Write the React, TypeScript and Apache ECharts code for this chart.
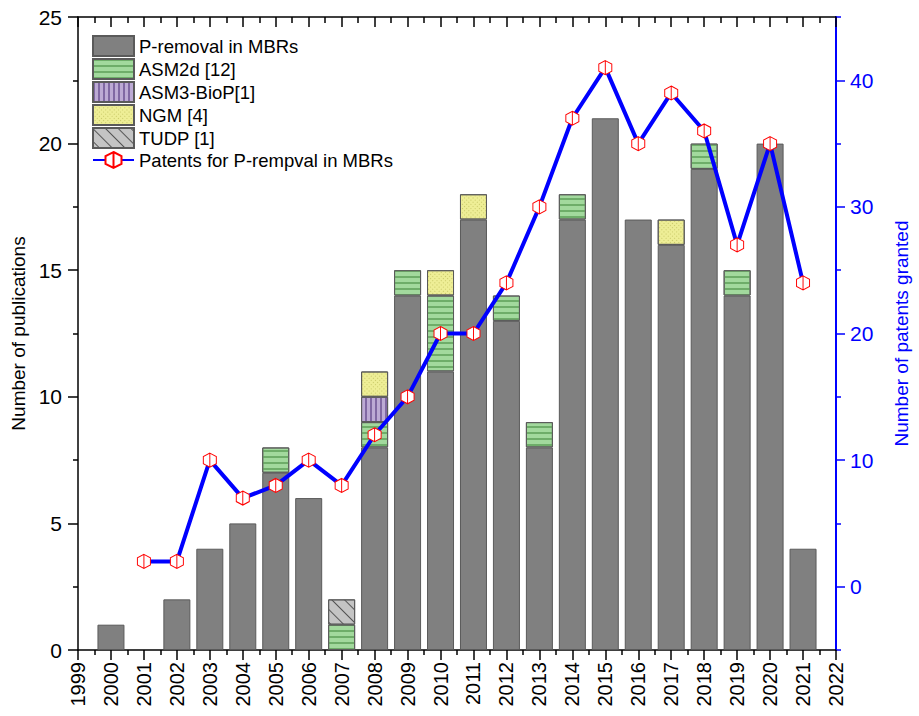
import React, { useEffect, useRef } from "react";
import * as echarts from "echarts";

// ---- data ----
const axisYears = ["1999", "2000", "2001", "2002", "2003", "2004", "2005", "2006", "2007", "2008", "2009", "2010", "2011", "2012", "2013", "2014", "2015", "2016", "2017", "2018", "2019", "2020", "2021", "2022"];
const pRemoval = [0, 1, 0, 2, 4, 5, 7, 6, 0, 8, 14, 11, 17, 13, 8, 17, 21, 17, 16, 19, 14, 20, 4, 0];
const asm2d = [0, 0, 0, 0, 0, 0, 1, 0, 1, 1, 1, 3, 0, 1, 1, 1, 0, 0, 0, 1, 1, 0, 0, 0];
const asm3 = [0, 0, 0, 0, 0, 0, 0, 0, 0, 1, 0, 0, 0, 0, 0, 0, 0, 0, 0, 0, 0, 0, 0, 0];
const ngm = [0, 0, 0, 0, 0, 0, 0, 0, 0, 1, 0, 1, 1, 0, 0, 0, 0, 0, 1, 0, 0, 0, 0, 0];
const tudp = [0, 0, 0, 0, 0, 0, 0, 0, 1, 0, 0, 0, 0, 0, 0, 0, 0, 0, 0, 0, 0, 0, 0, 0];
const patentYears = [2001, 2002, 2003, 2004, 2005, 2006, 2007, 2008, 2009, 2010, 2011, 2012, 2013, 2014, 2015, 2016, 2017, 2018, 2019, 2020, 2021];
const patents = [2, 2, 10, 7, 8, 10, 8, 12, 15, 20, 20, 24, 30, 37, 41, 35, 39, 36, 27, 35, 24];
const rightTicks = [0, 10, 20, 30, 40];

const names = [
  "P-removal in MBRs",
  "ASM2d [12]",
  "ASM3-BioP[1]",
  "NGM [4]",
  "TUDP [1]",
  "Patents for P-rempval in MBRs",
];

const FONT = "'Liberation Sans', Arial, sans-serif";
const BLUE = "#0000ff";

const toBar = (vals: number[]) =>
  vals.map((v) => (v === 0 ? { value: 0, itemStyle: { borderWidth: 0, opacity: 0 } } : v));

export default function App() {
  const ref = useRef<HTMLDivElement>(null);
  useEffect(() => {
    if (!ref.current) return;
    const chart = echarts.init(ref.current, null, { renderer: "svg" });
    const barBase = {
      type: "bar",
      stack: "pub",
      xAxisIndex: 2,
      yAxisIndex: 0,
      barWidth: 27,
      z: 2,
    };
    const yearFmt = (v: number) => String(Math.round(v));
    chart.setOption({
      animation: false,
      backgroundColor: "#ffffff",
      textStyle: { fontFamily: FONT },
      grid: { left: 78, right: 78, top: 17, bottom: 66, containLabel: false },
      legend: {
        orient: "vertical",
        left: 92,
        top: 35,
        padding: 0,
        itemWidth: 41,
        itemHeight: 20,
        itemGap: 1,
        data: [
          { name: names[0], icon: "rect" },
          { name: names[1], icon: "rect" },
          { name: names[2], icon: "rect" },
          { name: names[3], icon: "rect" },
          { name: names[4], icon: "rect" },
          { name: names[5] },
        ],
        textStyle: { fontSize: 18.5, lineHeight: 20, color: "#000", fontFamily: FONT },
        selectedMode: false,
      },
      xAxis: [
        {
          type: "value",
          position: "bottom",
          min: 1999,
          max: 2022,
          interval: 1,
          axisLine: { show: true, onZero: false, lineStyle: { color: "#000", width: 1.5 } },
          axisTick: { show: true, inside: false, length: 10, lineStyle: { color: "#000", width: 1.5 } },
          minorTick: { show: true, splitNumber: 2, length: 5, lineStyle: { color: "#000", width: 1.5 } },
          axisLabel: { rotate: 90, fontSize: 20, color: "#000", margin: 12, fontFamily: FONT, formatter: yearFmt },
          splitLine: { show: false },
          minorSplitLine: { show: false },
        },
        {
          type: "value",
          position: "top",
          min: 1999,
          max: 2022,
          interval: 1,
          axisLine: { show: true, onZero: false, lineStyle: { color: "#000", width: 1.5 } },
          axisTick: { show: true, inside: true, length: 10, lineStyle: { color: "#000", width: 1.5 } },
          minorTick: { show: true, splitNumber: 2, length: 6, lineStyle: { color: "#000", width: 1.5 } },
          axisLabel: { show: false },
          splitLine: { show: false },
        },
        {
          type: "category",
          position: "bottom",
          data: axisYears,
          boundaryGap: false,
          show: false,
        },
      ],
      yAxis: [
        {
          type: "value",
          position: "left",
          min: 0,
          max: 25,
          interval: 5,
          name: "Number of publications",
          nameLocation: "middle",
          nameRotate: 90,
          nameGap: 48,
          nameTextStyle: { fontSize: 19, color: "#000", fontFamily: FONT },
          axisLine: { show: true, onZero: false, lineStyle: { color: "#000", width: 1.5 } },
          axisTick: { show: true, inside: false, length: 10, lineStyle: { color: "#000", width: 1.5 } },
          minorTick: { show: true, splitNumber: 2, length: 5, lineStyle: { color: "#000", width: 1.5 } },
          axisLabel: { fontSize: 21, color: "#000", margin: 16, fontFamily: FONT },
          splitLine: { show: false },
        },
        {
          type: "value",
          position: "right",
          min: -5,
          max: 45,
          name: "Number of patents granted",
          nameLocation: "middle",
          nameRotate: 90,
          nameGap: 56,
          nameTextStyle: { fontSize: 19, color: BLUE, fontFamily: FONT },
          axisLine: { show: true, onZero: false, lineStyle: { color: BLUE, width: 2 } },
          axisTick: { show: true, inside: false, length: 9, customValues: rightTicks, lineStyle: { color: BLUE, width: 1.5 } },
          axisLabel: { fontSize: 21, color: BLUE, margin: 14, customValues: rightTicks, fontFamily: FONT },
          splitLine: { show: false },
        },
        {
          type: "value",
          position: "right",
          min: -5,
          max: 45,
          interval: 10,
          axisLine: { show: true, onZero: false, lineStyle: { color: BLUE, width: 2 } },
          axisTick: { show: true, inside: false, length: 5, lineStyle: { color: BLUE, width: 1.5 } },
          axisLabel: { show: false },
          splitLine: { show: false },
        },
      ],
      series: [
        {
          ...barBase,
          name: names[0],
          data: toBar(pRemoval),
          itemStyle: { color: "#808080", borderColor: "#5a5a5a", borderWidth: 1 },
        },
        {
          ...barBase,
          name: names[1],
          data: toBar(asm2d),
          itemStyle: {
            color: "#a2d99d",
            borderColor: "#5a5a5a",
            borderWidth: 1,
            decal: { symbol: "rect", symbolSize: 1, dashArrayX: [1, 0], dashArrayY: [1.3, 3.5], color: "#6ead69", rotation: 0 },
          },
        },
        {
          ...barBase,
          name: names[2],
          data: toBar(asm3),
          itemStyle: {
            color: "#bcaad4",
            borderColor: "#5a5a5a",
            borderWidth: 1,
            decal: { symbol: "rect", symbolSize: 1, dashArrayX: [1.2, 2.5], dashArrayY: [1, 0], color: "#8068a3", rotation: 0 },
          },
        },
        {
          ...barBase,
          name: names[3],
          data: toBar(ngm),
          itemStyle: {
            color: "#eeee96",
            borderColor: "#5a5a5a",
            borderWidth: 1,
            decal: { symbol: "rect", symbolSize: 1, dashArrayX: [1, 1.5], dashArrayY: [1, 1.5], color: "#c9c968", rotation: Math.PI / 4 },
          },
        },
        {
          ...barBase,
          name: names[4],
          data: toBar(tudp),
          itemStyle: {
            color: "#c4c4c4",
            borderColor: "#5a5a5a",
            borderWidth: 1,
            decal: { symbol: "rect", symbolSize: 1, dashArrayX: [1, 0], dashArrayY: [1, 8], color: "#555555", rotation: Math.PI / 4 },
          },
        },
        {
          type: "line",
          name: names[5],
          xAxisIndex: 0,
          yAxisIndex: 1,
          z: 5,
          data: patentYears.map((y, i) => [y, patents[i]]),
          lineStyle: { color: BLUE, width: 4 },
          symbol: "path://M10,0 L18.66,5 L18.66,15 L10,20 L1.34,15 L1.34,5 Z M10,0 L10,20",
          symbolSize: [13, 14],
          showAllSymbol: true,
          itemStyle: { color: "#ffffff", borderColor: "#ff0000", borderWidth: 1 },
        },
      ],
    });
    return () => chart.dispose();
  }, []);
  return (
    <div
      ref={ref}
      style={{ position: "absolute", left: 0, top: 0, width: 919, height: 716, background: "#fff" }}
    />
  );
}
